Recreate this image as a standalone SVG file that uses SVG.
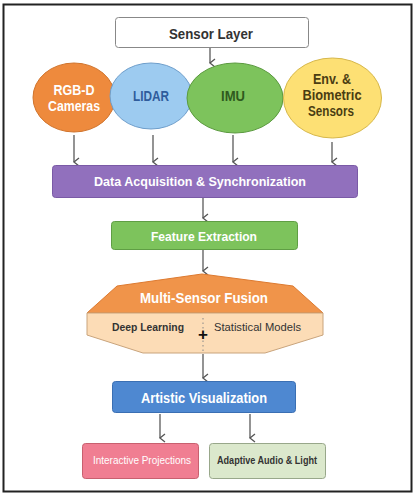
<svg xmlns="http://www.w3.org/2000/svg" width="415" height="493" viewBox="0 0 415 493">
<defs>
<marker id="ah" markerWidth="10" markerHeight="10" refX="5" refY="8" orient="auto-start-reverse" markerUnits="userSpaceOnUse" viewBox="0 0 10 10">
<path d="M1,3 L5,8 L9,3" fill="none" stroke="#555" stroke-width="1.3"/>
</marker>
<style>
.t{font-family:"Liberation Sans",Arial,sans-serif;font-weight:bold;text-anchor:middle}
.w{fill:#fff}
.d{fill:#333}
.c{stroke:#5a5a5a;stroke-width:1.3;fill:none;marker-end:url(#ah)}
</style>
</defs>
<rect x="0" y="0" width="415" height="493" fill="#fff"/>
<rect x="3.5" y="4.5" width="408" height="487" fill="#fff" stroke="#222" stroke-width="2"/>

<g id="connectors">
<line class="c" x1="210" y1="47" x2="210" y2="63"/>
<line class="c" x1="74" y1="135" x2="74" y2="162"/>
<line class="c" x1="153" y1="135" x2="153" y2="162"/>
<line class="c" x1="233" y1="135" x2="233" y2="162"/>
<line class="c" x1="332" y1="142" x2="332" y2="162"/>
<line class="c" x1="203" y1="198" x2="203" y2="218"/>
<line class="c" x1="203" y1="250" x2="203" y2="271"/>
<line class="c" x1="203" y1="354" x2="203" y2="378"/>
<line class="c" x1="160" y1="414" x2="160" y2="438"/>
<line class="c" x1="250" y1="414" x2="250" y2="438"/>
</g>

<g id="sensor-layer">
<rect x="115.5" y="17.5" width="193" height="30" rx="3" fill="#fff" stroke="#888" stroke-width="1"/>
<text class="t d" x="211" y="38.5" font-size="15" textLength="84" lengthAdjust="spacingAndGlyphs">Sensor Layer</text>
</g>

<g id="rgbd">
<ellipse cx="74" cy="97.5" rx="41" ry="34.5" fill="#ee8a3d" stroke="#d0732b" stroke-width="1"/>
<text class="t w" x="74" y="95" font-size="14" textLength="41" lengthAdjust="spacingAndGlyphs">RGB-D</text>
<text class="t w" x="74" y="111" font-size="14" textLength="52" lengthAdjust="spacingAndGlyphs">Cameras</text>
</g>

<g id="lidar">
<ellipse cx="151" cy="96" rx="41" ry="33" fill="#9dcbf0" stroke="#6e9ecb" stroke-width="1"/>
<text class="t" fill="#2f5c9c" x="151" y="101" font-size="14" textLength="36" lengthAdjust="spacingAndGlyphs">LIDAR</text>
</g>

<g id="imu">
<ellipse cx="235" cy="98" rx="48" ry="35" fill="#7dc35c" stroke="#5b9a3f" stroke-width="1"/>
<text class="t" fill="#2f5a1e" x="233" y="101" font-size="14" textLength="24" lengthAdjust="spacingAndGlyphs">IMU</text>
</g>

<g id="env">
<ellipse cx="332.5" cy="98" rx="49" ry="40" fill="#fde074" stroke="#d6b74a" stroke-width="1"/>
<text class="t" fill="#4a3d12" x="332" y="84" font-size="14" textLength="38" lengthAdjust="spacingAndGlyphs">Env. &amp;</text>
<text class="t" fill="#4a3d12" x="332" y="100" font-size="14" textLength="59" lengthAdjust="spacingAndGlyphs">Biometric</text>
<text class="t" fill="#4a3d12" x="331" y="116" font-size="14" textLength="46" lengthAdjust="spacingAndGlyphs">Sensors</text>
</g>

<g id="data-acq">
<rect x="52.5" y="165.5" width="305" height="32" rx="3" fill="#9170bd" stroke="#7a5aa6" stroke-width="1"/>
<text class="t w" x="200" y="186" font-size="13.5" textLength="212" lengthAdjust="spacingAndGlyphs">Data Acquisition &amp; Synchronization</text>
</g>

<g id="feature">
<rect x="111.5" y="221.5" width="186" height="28" rx="3" fill="#7dc35c" stroke="#5f9e44" stroke-width="1"/>
<text class="t w" x="204" y="240.5" font-size="13.5" textLength="106" lengthAdjust="spacingAndGlyphs">Feature Extraction</text>
</g>

<g id="fusion">
<polygon points="202,274 293,286 323,313 87,313 117,286" fill="#f0944a" stroke="#dd7a30" stroke-width="1"/>
<polygon points="87,313 323,313 323,335 265,353 143,353 87,335" fill="#fcdcb6" stroke="#c9a47c" stroke-width="1"/>
<text class="t w" x="204" y="302.5" font-size="15" textLength="128" lengthAdjust="spacingAndGlyphs">Multi-Sensor Fusion</text>
<line x1="203" y1="318" x2="203" y2="352" stroke="#888" stroke-width="1" stroke-dasharray="1.5,3"/>
<text class="t d" x="148" y="331" font-size="11.5" textLength="72" lengthAdjust="spacingAndGlyphs">Deep Learning</text>
<text x="257.5" y="331" font-family="'Liberation Sans',Arial,sans-serif" font-size="11.5" text-anchor="middle" fill="#333" textLength="87" lengthAdjust="spacingAndGlyphs">Statistical Models</text>
<text class="t" fill="#111" x="203" y="340" font-size="17">+</text>
</g>

<g id="artistic">
<rect x="112.5" y="381.5" width="183" height="31" rx="3" fill="#4e88d1" stroke="#3a6fb3" stroke-width="1"/>
<text class="t w" x="204" y="402.5" font-size="15" textLength="126" lengthAdjust="spacingAndGlyphs">Artistic Visualization</text>
</g>

<g id="projections">
<rect x="82.5" y="443.5" width="116" height="35" rx="3" fill="#f07e92" stroke="#c8606f" stroke-width="1"/>
<text x="142" y="464" font-family="'Liberation Sans',Arial,sans-serif" font-size="10.5" text-anchor="middle" fill="#fff" textLength="98" lengthAdjust="spacingAndGlyphs">Interactive Projections</text>
</g>

<g id="audio">
<rect x="209.5" y="443.5" width="116" height="35" rx="3" fill="#dbe8cc" stroke="#98a78a" stroke-width="1"/>
<text class="t d" x="267" y="464" font-size="10.5" textLength="100" lengthAdjust="spacingAndGlyphs">Adaptive Audio &amp; Light</text>
</g>
</svg>
